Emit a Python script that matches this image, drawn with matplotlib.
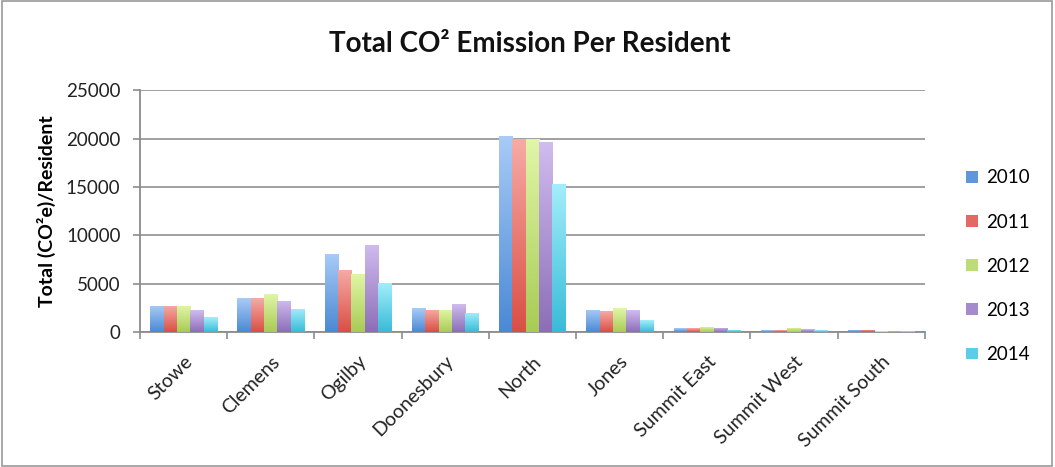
import numpy as np
import matplotlib
matplotlib.use("Agg")
import matplotlib.pyplot as plt
from matplotlib.colors import LinearSegmentedColormap
from matplotlib.patches import Rectangle

plt.rcParams['font.family'] = ['Lato', 'DejaVu Sans']

# Data
neighborhoods = ["Stowe", "Clemens", "Ogilby", "Doonesbury", "North",
                 "Jones", "Summit East", "Summit West", "Summit South"]
years = ["2010", "2011", "2012", "2013", "2014"]
emissions_2010 = [2700, 3510, 8100, 2480, 20240, 2300, 400, 180, 210]
emissions_2011 = [2700, 3510, 6440, 2310, 20000, 2170, 400, 180, 210]
emissions_2012 = [2700, 3930, 6030, 2310, 20000, 2440, 560, 420, 60]
emissions_2013 = [2240, 3240, 9030, 2860, 19620, 2270, 450, 310, 60]
emissions_2014 = [1550, 2420, 5070, 2000, 15340, 1200, 250, 180, 90]
y_ticks = [0, 5000, 10000, 15000, 20000, 25000]

series = [emissions_2010, emissions_2011, emissions_2012, emissions_2013, emissions_2014]

# (top colour, bottom colour, legend colour) per year
palette = [
    ("#a9cbf7", "#4a89d4", "#5f97dc"),
    ("#f7aba6", "#d94f45", "#e36a62"),
    ("#e2f6a8", "#a8cb55", "#bcdc77"),
    ("#d0bcee", "#8c6eb8", "#a58bcd"),
    ("#a4eefb", "#38bbd8", "#5ccde6"),
]

fig = plt.figure(figsize=(10.55, 4.67), dpi=100)
ax = fig.add_axes([0.1327, 0.289, 0.744, 0.518])

n_groups = len(neighborhoods)
n_series = len(series)
bar_w = 0.153
x = np.arange(n_groups)
grad = np.linspace(0, 1, 256).reshape(-1, 1)

handles = []
for i, (vals, (top, bottom, mid)) in enumerate(zip(series, palette)):
    offs = (i - (n_series - 1) / 2) * bar_w
    bars = ax.bar(x + offs, vals, width=bar_w, color=mid, edgecolor='none',
                  label=years[i], zorder=2)
    cmap = LinearSegmentedColormap.from_list(f"g{i}", [bottom, top])
    for rect in bars:
        x0, w = rect.get_x(), rect.get_width()
        h = rect.get_height()
        im = ax.imshow(grad, cmap=cmap, aspect='auto', origin='lower',
                       extent=(x0, x0 + w, 0, h), zorder=3)
        im.set_clip_path(rect)
    handles.append(bars)

ax.set_xlim(-0.5, n_groups - 0.5)
ax.set_ylim(0, 25000)
ax.set_yticks(y_ticks)
ax.set_yticklabels([str(v) for v in y_ticks], fontsize=13.5, color='#222222')
ax.yaxis.grid(True, color='#a0a0a0', linewidth=1.4, zorder=0)
ax.set_axisbelow(True)

# Category ticks sit on the boundaries between groups
ax.set_xticks(np.arange(-0.5, n_groups, 1.0))
ax.set_xticklabels([])
ax.set_xticks(x, minor=True)
ax.set_xticklabels(neighborhoods, minor=True, rotation=45, ha='right',
                   rotation_mode='anchor', fontsize=14, color='#222222')
ax.tick_params(axis='x', which='minor', length=0, pad=15)
ax.tick_params(axis='x', which='major', length=5, color='#8c8c8c', width=1.2)
ax.tick_params(axis='y', length=5, color='#8c8c8c', width=1.2, pad=9)

for side in ('top', 'right'):
    ax.spines[side].set_visible(False)
for side in ('left', 'bottom'):
    ax.spines[side].set_color('#8c8c8c')
    ax.spines[side].set_linewidth(1.3)

ax.set_ylabel("Total (CO²e)/Resident", fontsize=14, fontweight='bold', labelpad=7)

fig.text(0.5025, 0.905, "Total CO² Emission Per Resident", ha='center', va='center',
         fontsize=20, fontweight='bold', color='#111111')

leg = fig.legend(handles=handles, labels=years, loc='center left',
                 bbox_to_anchor=(0.9, 0.43), frameon=False, fontsize=13.5,
                 handlelength=0.6, handleheight=0.6, handletextpad=0.45,
                 labelspacing=1.45)

# Outer border of the chart area
fig.patches.append(Rectangle((0.0015, 0.003), 0.996, 0.994, transform=fig.transFigure,
                             fill=False, edgecolor='#9a9a9a', linewidth=1.2))

fig.savefig("out.png", dpi=100)
